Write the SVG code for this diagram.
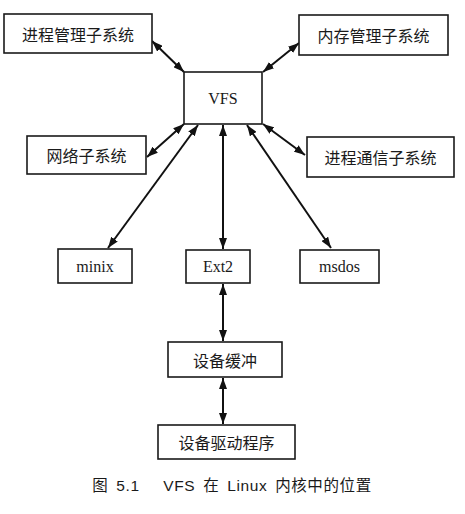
<svg xmlns="http://www.w3.org/2000/svg" width="465" height="514" viewBox="0 0 465 514">
<style>
.box{fill:#fff;stroke:#1a1a1a;stroke-width:1.6}
.cn{font-family:"Noto Sans CJK SC",sans-serif;font-size:16px;fill:#1a1a1a;text-anchor:middle;dominant-baseline:central}
.en{font-family:"Liberation Serif",serif;font-size:16px;fill:#1a1a1a;text-anchor:middle;dominant-baseline:central}
.cap{font-family:"Liberation Sans","Noto Sans CJK SC",sans-serif;font-size:15.5px;letter-spacing:0.6px;word-spacing:3px;fill:#1a1a1a;text-anchor:middle}
.ln{stroke:#111;stroke-width:2;fill:none;marker-start:url(#ah);marker-end:url(#ah)}
</style>
<defs>
<marker id="ah" viewBox="0 0 11 8" refX="11" refY="4" markerWidth="11" markerHeight="8" markerUnits="userSpaceOnUse" orient="auto-start-reverse">
<path d="M0,0 L11,4 L0,8 Z" fill="#111"/>
</marker>
</defs>
<rect width="465" height="514" fill="#fff"/>
<g id="connectors">
<line class="ln" x1="152" y1="41" x2="184" y2="72"/>
<line class="ln" x1="263" y1="72" x2="299" y2="43"/>
<line class="ln" x1="147" y1="157" x2="184" y2="124"/>
<line class="ln" x1="263" y1="124" x2="305" y2="155"/>
<line class="ln" x1="108" y1="248" x2="198" y2="125"/>
<line class="ln" x1="223" y1="125" x2="223" y2="249"/>
<line class="ln" x1="247" y1="125" x2="331" y2="248"/>
<line class="ln" x1="223" y1="284" x2="223" y2="341"/>
<line class="ln" x1="223" y1="378" x2="223" y2="424"/>
</g>
<g id="proc-mgmt"><rect class="box" x="4" y="14" width="148" height="39"/><text class="cn" x="78" y="33.5">进程管理子系统</text></g>
<g id="mem-mgmt"><rect class="box" x="299" y="15" width="149" height="40"/><text class="cn" x="373.5" y="35">内存管理子系统</text></g>
<g id="vfs"><rect class="box" x="184" y="72" width="78" height="52"/><text class="en" x="223" y="98">VFS</text></g>
<g id="network"><rect class="box" x="27" y="136" width="119" height="38"/><text class="cn" x="86.5" y="155">网络子系统</text></g>
<g id="ipc"><rect class="box" x="307" y="137" width="147" height="40"/><text class="cn" x="380.5" y="157">进程通信子系统</text></g>
<g id="minix"><rect class="box" x="58" y="249" width="74" height="34"/><text class="en" x="95" y="266">minix</text></g>
<g id="ext2"><rect class="box" x="186" y="250" width="64" height="33"/><text class="en" x="218" y="266.5">Ext2</text></g>
<g id="msdos"><rect class="box" x="300" y="250" width="79" height="33"/><text class="en" x="339.5" y="266.5">msdos</text></g>
<g id="dev-buf"><rect class="box" x="168" y="342" width="114" height="35"/><text class="cn" x="225" y="359.5">设备缓冲</text></g>
<g id="dev-drv"><rect class="box" x="158" y="425" width="137" height="34"/><text class="cn" x="226.5" y="442">设备驱动程序</text></g>
<text class="cap" x="232" y="491" xml:space="preserve">图 5.1   VFS 在 Linux 内核中的位置</text>
</svg>
